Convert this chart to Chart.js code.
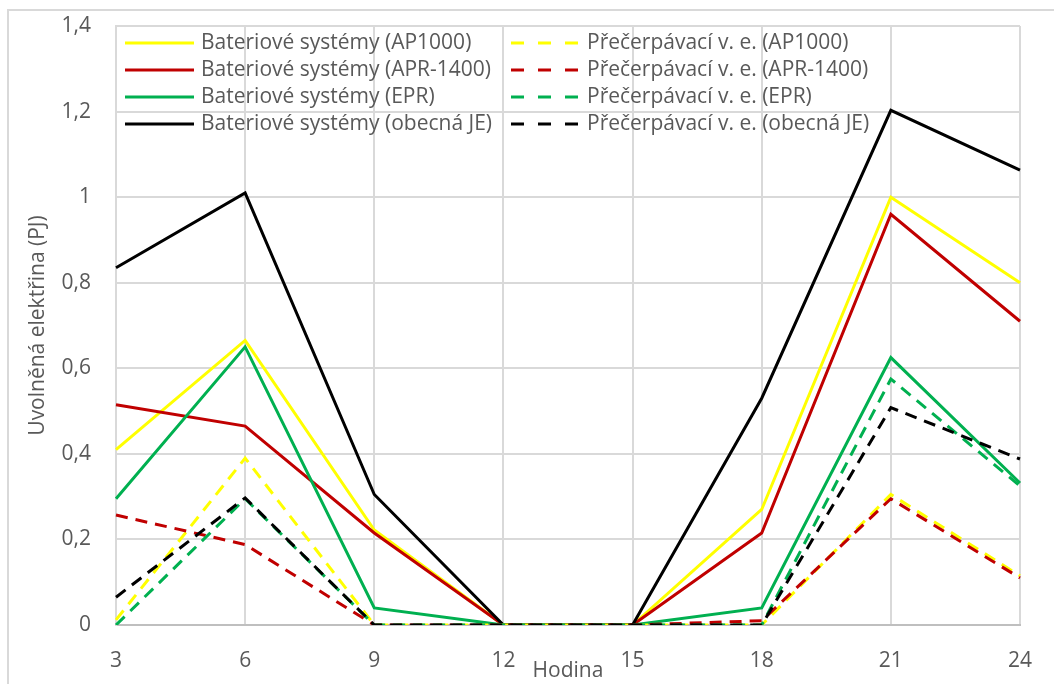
<!DOCTYPE html>
<html lang="cs">
<head>
  <meta charset="UTF-8">
  <title>Uvolněná elektřina</title>
  <script src="https://cdn.jsdelivr.net/npm/chart.js"></script>
  <style>
    html, body { margin: 0; padding: 0; background: #fff; overflow: hidden; }
    #ramec {
      position: absolute; left: 7px; top: 9px; width: 1200px; height: 900px;
      border-left: 2px solid #d9d9d9; border-top: 2px solid #d9d9d9;
    }
    #graf { position: absolute; left: 0; top: 0; width: 1054px; height: 684px; }
  </style>
</head>
<body>
  <div id="ramec"></div>
  <div id="graf"><canvas id="elektrinaChart"></canvas></div>
  <script>
    // Hodiny dne
    const hodiny = ['3', '6', '9', '12', '15', '18', '21', '24'];

    // Bateriové systémy (PJ)
    const batAP1000 = [0.41, 0.665, 0.222, 0, 0, 0.27, 1.0, 0.8];
    const batAPR1400 = [0.515, 0.465, 0.215, 0, 0, 0.215, 0.96, 0.71];
    const batEPR = [0.295, 0.65, 0.04, 0, 0, 0.04, 0.625, 0.332];
    const batObecna = [0.835, 1.01, 0.305, 0, 0, 0.53, 1.203, 1.063];

    // Přečerpávací vodní elektrárny (PJ)
    const precAP1000 = [0.012, 0.39, 0, 0, 0, 0, 0.305, 0.115];
    const precAPR1400 = [0.257, 0.188, 0, 0, 0, 0.01, 0.295, 0.11];
    const precEPR = [0, 0.295, 0, 0, 0, 0, 0.575, 0.325];
    const precObecna = [0.065, 0.297, 0, 0, 0, 0, 0.508, 0.388];

    const ZLUTA = '#ffff00', CERVENA = '#c00000', ZELENA = '#00b050', CERNA = '#000000';
    const SEDA_TEXT = '#595959';
    const PISMO = 'Open Sans';

    function rada(label, data, barva, carkovana, i) {
      return {
        label: label,
        data: data,
        borderColor: barva,
        backgroundColor: barva,
        borderWidth: 3,
        borderDash: carkovana ? [12, 8] : [],
        pointRadius: 0,
        tension: 0,
        fill: false,
        order: -i   // pozdější řady se kreslí navrch
      };
    }

    // legenda ve dvou sloupcích uvnitř grafu
    const legendaVGrafu = {
      id: 'legendaVGrafu',
      afterDraw(chart) {
        const ctx = chart.ctx;
        const { left, top } = chart.chartArea;
        ctx.save();
        ctx.font = '21px "' + PISMO + '"';
        ctx.textBaseline = 'middle';
        chart.data.datasets.forEach((ds, i) => {
          const x = left + 9 + Math.floor(i / 4) * 386;
          const y = top + 17 + (i % 4) * 27;
          ctx.strokeStyle = ds.borderColor;
          ctx.lineWidth = 3;
          ctx.setLineDash(ds.borderDash.length ? [13, 14] : []);
          ctx.beginPath();
          ctx.moveTo(x, y);
          ctx.lineTo(x + 69, y);
          ctx.stroke();
          ctx.setLineDash([]);
          ctx.fillStyle = SEDA_TEXT;
          ctx.fillText(ds.label, x + 76, y);
        });
        ctx.restore();
      }
    };

    const ctx = document.getElementById('elektrinaChart').getContext('2d');
    new Chart(ctx, {
      type: 'line',
      data: {
        labels: hodiny,
        datasets: [
          rada('Bateriové systémy (AP1000)', batAP1000, ZLUTA, false, 0),
          rada('Bateriové systémy (APR-1400)', batAPR1400, CERVENA, false, 1),
          rada('Bateriové systémy (EPR)', batEPR, ZELENA, false, 2),
          rada('Bateriové systémy (obecná JE)', batObecna, CERNA, false, 3),
          rada('Přečerpávací v. e. (AP1000)', precAP1000, ZLUTA, true, 4),
          rada('Přečerpávací v. e. (APR-1400)', precAPR1400, CERVENA, true, 5),
          rada('Přečerpávací v. e. (EPR)', precEPR, ZELENA, true, 6),
          rada('Přečerpávací v. e. (obecná JE)', precObecna, CERNA, true, 7)
        ]
      },
      options: {
        responsive: true,
        maintainAspectRatio: false,
        animation: false,
        layout: { padding: { left: 0, top: 26, right: 34, bottom: 0 } },
        plugins: {
          legend: { display: false },
          tooltip: { enabled: false }
        },
        scales: {
          x: {
            offset: false,
            // neviditelné značky slouží jen jako odsazení popisků
            grid: { color: '#d9d9d9', lineWidth: 2, drawTicks: true, tickLength: 23, tickColor: 'rgba(0,0,0,0)' },
            border: { color: '#bfbfbf', width: 2 },
            ticks: { color: SEDA_TEXT, font: { family: PISMO, size: 21 }, padding: 0, maxRotation: 0 },
            title: {
              display: true, text: 'Hodina', color: SEDA_TEXT,
              font: { family: PISMO, size: 21 }, padding: { top: 0, bottom: 0 }
            },
            afterFit(s) { s.height = 59; }
          },
          y: {
            min: 0,
            max: 1.4,
            grid: { color: '#d9d9d9', lineWidth: 2, drawTicks: true, tickLength: 25, tickColor: 'rgba(0,0,0,0)' },
            border: { color: '#d9d9d9', width: 2 },
            ticks: {
              stepSize: 0.2,
              color: SEDA_TEXT,
              font: { family: PISMO, size: 21 },
              padding: 0,
              callback: v => String(Math.round(v * 10) / 10).replace('.', ',')
            },
            title: {
              display: true, text: 'Uvolněná elektřina (PJ)', color: SEDA_TEXT,
              font: { family: PISMO, size: 21 }, padding: { top: 25, bottom: 0 }
            },
            afterFit(s) { s.width = 116; }
          }
        }
      },
      plugins: [legendaVGrafu]
    });
  </script>
</body>
</html>
